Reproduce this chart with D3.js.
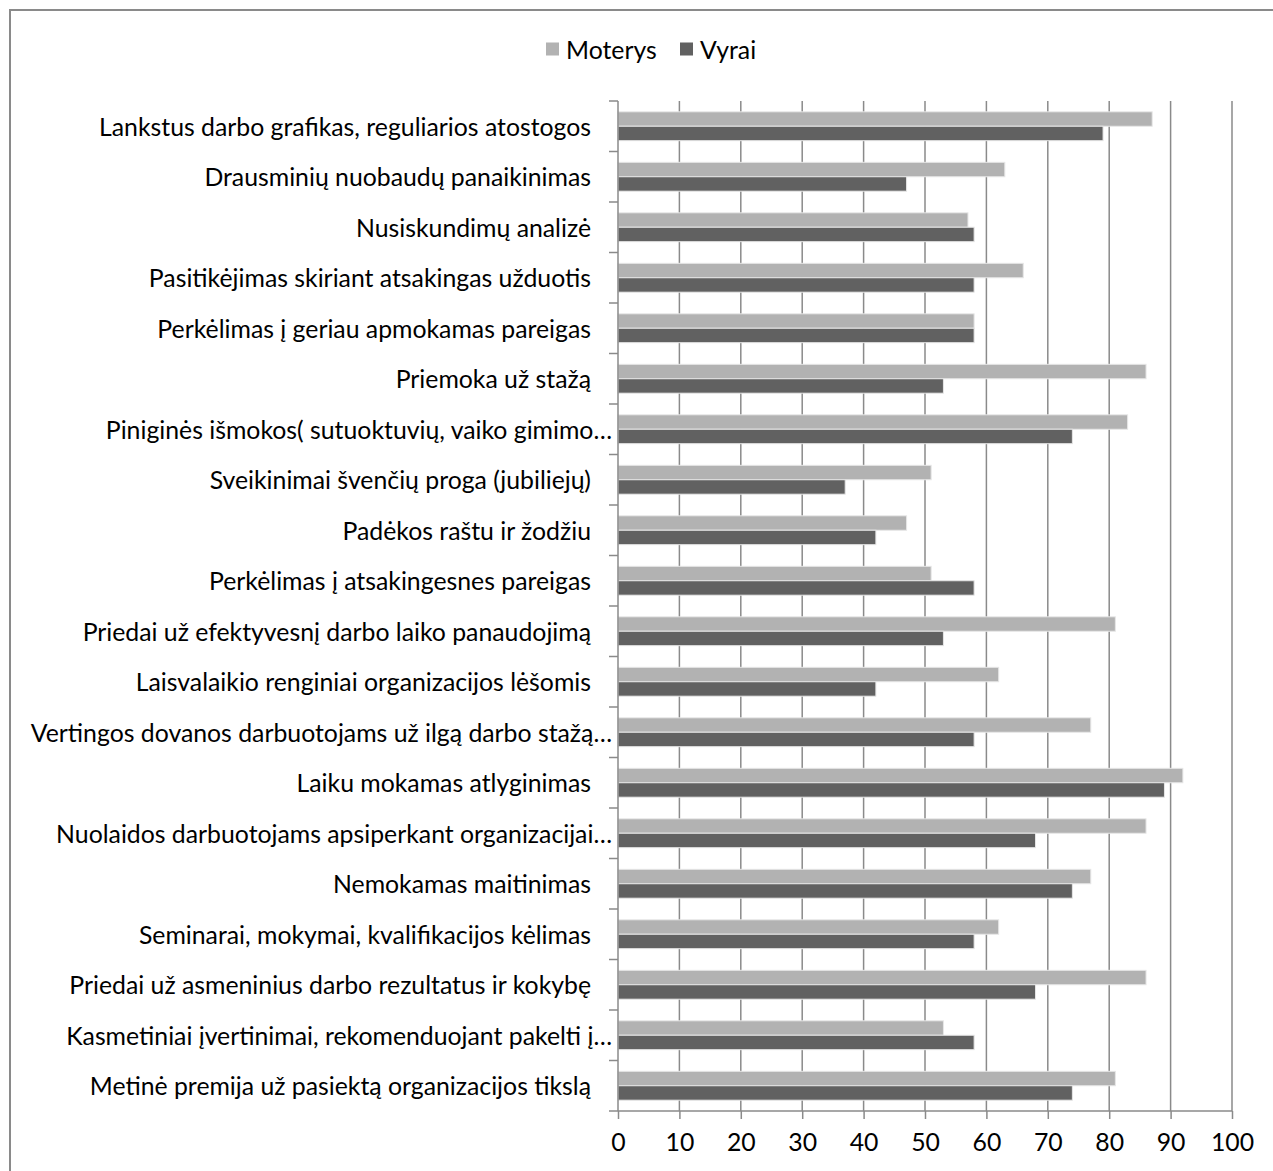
<!DOCTYPE html>
<html>
<head>
<meta charset="utf-8">
<script src="https://cdn.jsdelivr.net/npm/d3@7"></script>
<style>
  html, body { margin: 0; padding: 0; background: #fff; }
  svg { display: block; }
  text { font-family: Lato, "Open Sans", sans-serif; fill: #000; }
</style>
</head>
<body>
<script>
// Survey answers by gender, percent
const categories = [
  "Lankstus darbo grafikas, reguliarios atostogos",
  "Drausminių nuobaudų panaikinimas",
  "Nusiskundimų analizė",
  "Pasitikėjimas skiriant atsakingas užduotis",
  "Perkėlimas į geriau apmokamas pareigas",
  "Priemoka už stažą",
  "Piniginės išmokos( sutuoktuvių, vaiko gimimo…",
  "Sveikinimai švenčių proga (jubiliejų)",
  "Padėkos raštu ir žodžiu",
  "Perkėlimas į atsakingesnes pareigas",
  "Priedai už efektyvesnį darbo laiko panaudojimą",
  "Laisvalaikio renginiai organizacijos lėšomis",
  "Vertingos dovanos darbuotojams už ilgą darbo stažą…",
  "Laiku mokamas atlyginimas",
  "Nuolaidos darbuotojams apsiperkant organizacijai…",
  "Nemokamas maitinimas",
  "Seminarai, mokymai, kvalifikacijos kėlimas",
  "Priedai už asmeninius darbo rezultatus ir kokybę",
  "Kasmetiniai įvertinimai, rekomenduojant pakelti į…",
  "Metinė premija už pasiektą organizacijos tikslą"
];
const moterys = [87, 63, 57, 66, 58, 86, 83, 51, 47, 51, 81, 62, 77, 92, 86, 77, 62, 86, 53, 81];
const vyrai   = [79, 47, 58, 58, 58, 53, 74, 37, 42, 58, 53, 42, 58, 89, 68, 74, 58, 68, 58, 74];
const seriesNames = ["Moterys", "Vyrai"];
const seriesColors = ["#b2b2b2", "#616161"];
const xTicks = [0, 10, 20, 30, 40, 50, 60, 70, 80, 90, 100];

const W = 1273, H = 1171;
const plot = { left: 618, right: 1232, top: 101, bottom: 1111 };
const gridColor = "#8a8a8a";
const fontSize = 24.8;

const svg = d3.select("body").append("svg")
  .attr("width", W).attr("height", H);

// chart frame
svg.append("rect")
  .attr("x", 10).attr("y", 10)
  .attr("width", W + 20).attr("height", H + 20)
  .attr("fill", "#fff")
  .attr("stroke", gridColor).attr("stroke-width", 2);

const x = d3.scaleLinear().domain([0, 100]).range([plot.left, plot.right]);
const y = d3.scaleBand().domain(categories).range([plot.top, plot.bottom]).paddingInner(0).paddingOuter(0);

// gap width of 150%: two bars + 1.5 bar of gap per band
const barW = y.bandwidth() / 3.5;
const inner = d3.scaleBand().domain(seriesNames)
  .range([0.75 * barW, 2.75 * barW]).padding(0);

// vertical gridlines
svg.append("g").selectAll("line")
  .data(xTicks.filter(t => t > 0))
  .join("line")
  .attr("x1", d => x(d)).attr("x2", d => x(d))
  .attr("y1", plot.top).attr("y2", plot.bottom)
  .attr("stroke", gridColor).attr("stroke-width", 1.5);

// bars
const rows = categories.map((c, i) => ({ c, vals: [moterys[i], vyrai[i]] }));
const groups = svg.append("g").selectAll("g")
  .data(rows).join("g")
  .attr("transform", d => `translate(0,${y(d.c)})`);
groups.selectAll("rect")
  .data(d => d.vals.map((v, k) => ({ v, k })))
  .join("rect")
  .attr("x", x(0))
  .attr("y", d => inner(seriesNames[d.k]))
  .attr("width", d => x(d.v) - x(0))
  .attr("height", inner.bandwidth())
  .attr("fill", d => seriesColors[d.k])
  .attr("stroke", "#e6e6e6").attr("stroke-width", 1);

// bottom axis
const xAxis = svg.append("g")
  .attr("transform", `translate(0,${plot.bottom})`)
  .call(d3.axisBottom(x).tickValues(xTicks).tickSize(8).tickSizeOuter(0).tickPadding(14));
xAxis.select(".domain").attr("stroke", gridColor).attr("stroke-width", 1.5)
  .attr("d", `M${plot.left - 9},0H${plot.right}`);
xAxis.selectAll(".tick line").attr("stroke", gridColor).attr("stroke-width", 1.5);
xAxis.selectAll(".tick text")
  .style("font-family", "Lato, 'Open Sans', sans-serif")
  .attr("font-size", fontSize).attr("fill", "#000");

// left axis with ticks between categories
const yAxisG = svg.append("g");
yAxisG.append("line")
  .attr("x1", plot.left).attr("x2", plot.left)
  .attr("y1", plot.top).attr("y2", plot.bottom)
  .attr("stroke", gridColor).attr("stroke-width", 1.5);
yAxisG.selectAll("line.tick")
  .data(categories)
  .join("line").attr("class", "tick")
  .attr("x1", plot.left - 9).attr("x2", plot.left)
  .attr("y1", d => y(d)).attr("y2", d => y(d))
  .attr("stroke", gridColor).attr("stroke-width", 1.5);

// category labels; truncated labels run closer to the axis
yAxisG.selectAll("text")
  .data(categories)
  .join("text")
  .attr("x", d => plot.left - (d.endsWith("…") ? 6 : 27))
  .attr("y", d => y(d) + y.bandwidth() / 2)
  .attr("text-anchor", "end")
  .attr("dominant-baseline", "central")
  .attr("font-size", fontSize)
  .text(d => d);

// legend
const legend = svg.append("g").attr("transform", "translate(546,49)");
const legendX = [0, 134];
seriesNames.forEach((name, k) => {
  const g = legend.append("g").attr("transform", `translate(${legendX[k]},0)`);
  g.append("rect").attr("x", 0).attr("y", -6.5).attr("width", 13).attr("height", 13)
    .attr("fill", seriesColors[k]);
  g.append("text").attr("x", 20).attr("y", 0)
    .attr("dominant-baseline", "central")
    .attr("font-size", fontSize).text(name);
});
</script>
</body>
</html>
